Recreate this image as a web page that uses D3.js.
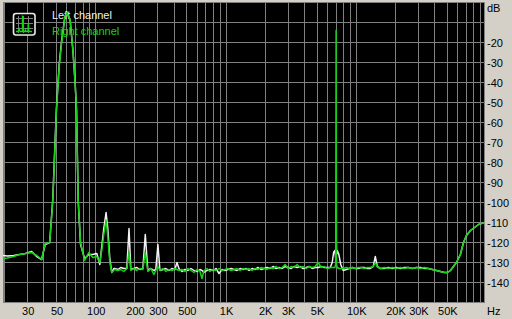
<!DOCTYPE html>
<html>
<head>
<meta charset="utf-8">
<script src="https://cdn.jsdelivr.net/npm/d3@7"></script>
<style>
  html, body { margin: 0; padding: 0; background: #d4d0c8; }
  svg { display: block; }
  text { font-family: "Liberation Sans", Arial, sans-serif; font-size: 11px; }
</style>
</head>
<body>
<svg id="chart" width="512" height="319"></svg>
<script>
// ---- data ----
const freqs = [
  19.4, 21.0, 23.4, 26.0, 28.9, 32.2, 35.2, 38.4, 40.9, 44.3,
  46.8, 48.4, 49.9, 52.4, 54.7, 58.0, 60.1, 63.6, 66.8, 69.4,
  71.2, 73.3, 76.4, 82.1, 88.4, 94.8, 101.9, 107.4, 111.2, 115.2,
  120, 123.7, 128.2, 132.8, 137.5, 140, 147.7, 155.7, 164.2, 173.2,
  180, 185.9, 196, 206.8, 218.1, 229.9, 240, 251, 264.9, 279.4,
  289, 300, 311, 327.6, 345.5, 364.3, 384.2, 405.3, 420, 435,
  458.6, 483.8, 510.2, 538.1, 567.4, 598.4, 631, 653.8, 677.3, 714.3,
  753.3, 794.3, 837.7, 883.4, 931.5, 982.4, 1036, 1093, 1152, 1215,
  1281, 1351, 1425, 1503, 1585, 1671, 1763, 1858, 1960, 2067,
  2180, 2298, 2424, 2556, 2696, 2843, 2998, 3162, 3335, 3516,
  3708, 3911, 4124, 4349, 4587, 4837, 5101, 5379, 5673, 5983,
  6310, 6538, 6700, 6850, 6950, 7000, 7050, 7150, 7350, 7600,
  7943, 8377, 8834, 9315, 9825, 10360, 10930, 11520, 12150, 12810,
  13510, 14000, 14500, 15300, 16420, 17630, 18920, 20310, 21800, 23400,
  25120, 26960, 28940, 31070, 33350, 35800, 38420, 41240, 44280, 47530,
  50120, 52860, 55700, 58780, 63000, 66560, 70170, 75330, 80860, 86800,
  93170, 96500
];
const rightDb = [
  -128, -127.8, -127, -126, -125.5, -125, -126.5, -128.5, -120.5, -120,
  -99, -75, -54, -32, -20, -7, -5, -9, -24, -40,
  -54, -99, -120, -129, -125, -127.5, -127, -130, -124, -116,
  -109, -117, -130, -135, -134, -133.5, -134, -133.5, -134.5, -133,
  -125, -134, -133, -134, -133, -133.5, -125, -134.5, -133, -136,
  -134, -132, -134, -133, -134.5, -133.5, -134, -133, -133.5, -134,
  -133.5, -134.5, -133, -134, -135, -133.5, -134.5, -138, -134, -133,
  -134.5, -133.5, -134, -133, -134, -133.5, -133, -134, -133.5, -133,
  -134, -133, -133.5, -133, -134, -133, -133.5, -132.5, -133, -133.5,
  -132.5, -133, -132, -133, -132.5, -131, -133, -132, -132.5, -131,
  -132.5, -132, -133, -132, -132.5, -132, -130, -132.5, -132, -133,
  -132.5, -132.5, -132.5, -132.5, -131, -14, -131, -132.5, -133, -133,
  -133, -132.5, -133, -132.5, -133, -132.5, -132.5, -133, -132.5, -132.5,
  -132, -130, -132, -133, -132.5, -133, -132.5, -133, -132.5, -133,
  -132.5, -133, -132.5, -133, -132.5, -133, -133.5, -134, -134.5, -135,
  -135, -134, -132, -130, -126, -120, -116.5, -114, -112.5, -111,
  -110.3, -110
];
const leftDb = [
  -126.5, -126.8, -126.5, -126, -125.5, -124.5, -127, -128.5, -121, -120,
  -98, -74, -53, -31, -19, -7, -5, -9, -24, -40,
  -54, -99, -121, -128, -126, -126, -125.5, -131, -122, -113,
  -105, -113, -128, -135, -133, -133, -133.5, -132.5, -133, -133,
  -113, -133.5, -133, -132.5, -133.5, -133, -116, -134, -133, -134,
  -133.5, -121, -134, -133.5, -133, -134, -133, -133.5, -130, -133,
  -134.5, -133.5, -134, -133, -134, -134.5, -133.5, -134, -135, -134,
  -133.5, -134, -133, -135.5, -133.5, -134, -133.5, -133, -133.5, -134,
  -133, -133.5, -133, -134, -133, -133.5, -132.5, -133.5, -133, -132.5,
  -133, -132, -133, -132.5, -133, -132, -132.5, -133, -132, -132.5,
  -132, -133, -132.5, -132, -133, -132.5, -132.5, -132, -132.5, -132.5,
  -132.5, -130, -125, -124, -128, -111, -126, -124, -126, -131,
  -134, -133.5, -133, -132.5, -133, -133, -132.5, -132.5, -133, -133,
  -132, -127, -132, -133, -133, -132.5, -133, -132.5, -133, -132.5,
  -132.5, -133, -132.5, -132.5, -133, -133, -133.5, -134, -134.5, -135,
  -135, -134, -132, -130, -126, -120, -116.5, -114, -112.5, -111,
  -110.3, -110
];
const xTickVals = [30, 50, 100, 200, 300, 500, 1000, 2000, 3000, 5000, 10000, 20000, 30000, 50000];
const xTickLabels = ["30", "50", "100", "200", "300", "500", "1K", "2K", "3K", "5K", "10K", "20K", "30K", "50K"];
const yTickVals = [-20, -30, -40, -50, -60, -70, -80, -90, -100, -110, -120, -130, -140];
const yTickLabels = ["-20", "-30", "-40", "-50", "-60", "-70", "-80", "-90", "-100", "-110", "-120", "-130", "-140"];
const yGridVals = [-10, -20, -30, -40, -50, -60, -70, -80, -90, -100, -110, -120, -130, -140];
const seriesNames = ["Left channel", "Right channel"];

// ---- layout ----
const plot = { left: 3, right: 484.5, top: 2.5, bottom: 302.5 };
const x = d3.scaleLog().domain([19.4, 96500]).range([plot.left, plot.right]);
const y = d3.scaleLinear().domain([-150, 0]).range([plot.bottom, plot.top]);
const GRID = "#808080";
const GREEN = "#12d412";
const WHITE = "#f2f2f2";

const svg = d3.select("#chart");
svg.append("rect").attr("x", 0).attr("y", 0).attr("width", 512).attr("height", 319).attr("fill", "#d4d0c8");
svg.append("rect")
  .attr("x", plot.left).attr("y", plot.top)
  .attr("width", plot.right - plot.left).attr("height", plot.bottom - plot.top)
  .attr("fill", "#000");

const crisp = v => Math.round(v - 0.5) + 0.5;

// vertical grid
const gridG = svg.append("g").attr("stroke", GRID).attr("stroke-width", 1).attr("shape-rendering", "crispEdges");
gridG.selectAll("line.v").data(x.ticks()).enter().append("line")
  .attr("x1", d => crisp(x(d))).attr("x2", d => crisp(x(d)))
  .attr("y1", plot.top).attr("y2", plot.bottom);
gridG.selectAll("line.h").data(yGridVals).enter().append("line")
  .attr("x1", plot.left).attr("x2", plot.right)
  .attr("y1", d => crisp(y(d))).attr("y2", d => crisp(y(d)));
// border
svg.append("rect")
  .attr("x", crisp(plot.left)).attr("y", crisp(plot.top))
  .attr("width", crisp(plot.right) - crisp(plot.left)).attr("height", crisp(plot.bottom) - crisp(plot.top))
  .attr("fill", "none").attr("stroke", GRID).attr("shape-rendering", "crispEdges");

// x labels via axis
const xAxis = d3.axisBottom(x).tickValues(xTickVals).tickFormat((d, i) => xTickLabels[i]).tickSize(0).tickPadding(0);
const xg = svg.append("g").attr("transform", `translate(0, ${plot.bottom + 10})`).call(xAxis);
xg.select(".domain").remove();
xg.selectAll("text").attr("fill", "#000").attr("dy", "0.32em").attr("y", -1)
  .style("font-family", '"Liberation Sans", Arial, sans-serif').style("font-size", "11px");
svg.append("text").attr("x", 487).attr("y", plot.bottom + 9).attr("dy", "0.32em").attr("fill", "#000").text("Hz");

// y labels via axis
const yAxis = d3.axisRight(y).tickValues(yTickVals).tickFormat((d, i) => yTickLabels[i]).tickSize(0).tickPadding(0);
const yg = svg.append("g").attr("transform", `translate(${plot.right + 2.5}, 0)`).call(yAxis);
yg.select(".domain").remove();
yg.selectAll("text").attr("fill", "#000")
  .style("font-family", '"Liberation Sans", Arial, sans-serif').style("font-size", "11px");
svg.append("text").attr("x", 487).attr("y", 8).attr("dy", "0.32em").attr("fill", "#000").text("dB");

// legend icon
const icon = svg.append("g").attr("transform", "translate(13,13)");
icon.append("rect").attr("x", 0.5).attr("y", 0.5).attr("width", 21.5).attr("height", 21.5).attr("rx", 2.5)
  .attr("fill", "#000").attr("stroke", "#e8e8e8").attr("stroke-width", 1.6);
[5.5, 10.5, 15.5].forEach(v => {
  icon.append("line").attr("x1", v).attr("x2", v).attr("y1", 2.5).attr("y2", 20).attr("stroke", GRID).attr("shape-rendering", "crispEdges");
  icon.append("line").attr("x1", 2.5).attr("x2", 20).attr("y1", v).attr("y2", v).attr("stroke", GRID).attr("shape-rendering", "crispEdges");
});
icon.append("path")
  .attr("d", "M3,18.5 L5,18.5 L6,16 L7,18.5 L9.5,18.5 L9.5,2.5 L10,18.5 L12,18.5 L12.5,16.5 L13,18.5 L15,18.5 L15.3,10 L15.7,18.5 L19,18.5")
  .attr("fill", "none").attr("stroke", GREEN).attr("stroke-width", 1.4);

// legend text
const legendColors = [WHITE, GREEN];
svg.selectAll("text.legend").data(seriesNames).enter().append("text")
  .attr("class", "legend")
  .attr("x", 52).attr("y", (d, i) => 15 + i * 16.5).attr("dy", "0.32em")
  .attr("fill", (d, i) => legendColors[i])
  .text(d => d);

// series
const leftData = freqs.map((f, i) => ({ f, v: leftDb[i] }));
const rightData = freqs.map((f, i) => ({ f, v: rightDb[i] }));
const line = d3.line().x(d => x(d.f)).y(d => y(d.v));
const clip = svg.append("clipPath").attr("id", "plotclip").append("rect")
  .attr("x", plot.left).attr("y", plot.top).attr("width", plot.right - plot.left).attr("height", plot.bottom - plot.top);
const series = svg.append("g").attr("clip-path", "url(#plotclip)");
series.append("path").datum(leftData).attr("d", line)
  .attr("fill", "none").attr("stroke", WHITE).attr("stroke-width", 1.5).attr("stroke-linejoin", "round");
series.append("path").datum(rightData).attr("d", line)
  .attr("fill", "none").attr("stroke", GREEN).attr("stroke-width", 1.5).attr("stroke-linejoin", "round");
</script>
</body>
</html>
